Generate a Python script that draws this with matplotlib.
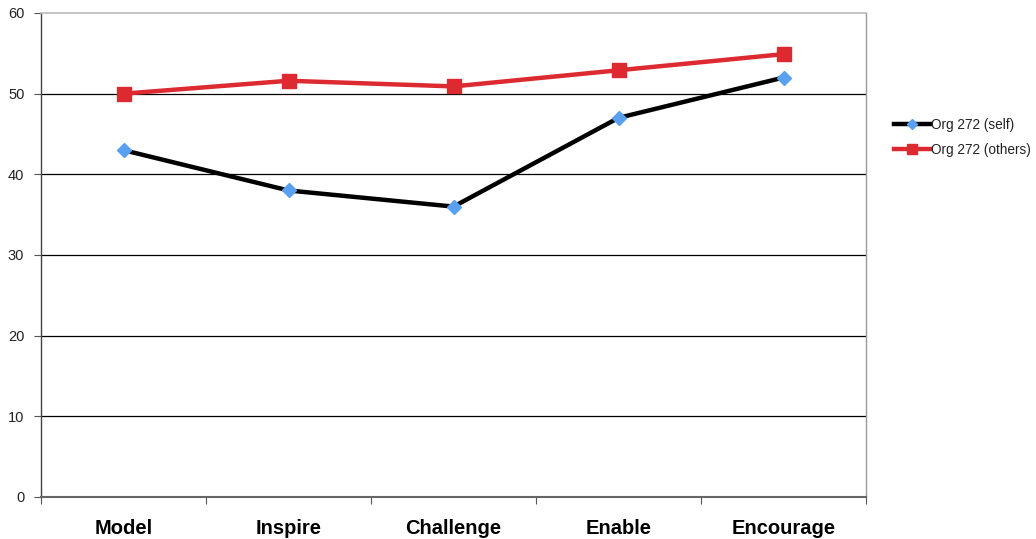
import matplotlib
matplotlib.use("Agg")
import matplotlib.pyplot as plt

categories = ["Model", "Inspire", "Challenge", "Enable", "Encourage"]
self_scores = [43, 38, 36, 47, 52]
others_scores = [50, 51.6, 50.9, 52.9, 54.9]
y_ticks = [0, 10, 20, 30, 40, 50, 60]

plt.rcParams['font.family'] = ['Liberation Sans', 'DejaVu Sans']

fig = plt.figure(figsize=(10.36, 5.39), dpi=100)
ax = fig.add_axes([41/1036, 1 - 497/539, (866 - 41)/1036, (497 - 13)/539])

x = list(range(len(categories)))

# horizontal gridlines (top one acts as the plot-area border)
for v in y_ticks[1:-1]:
    ax.axhline(v, color='black', lw=0.9, zorder=1)

ax.plot(x, self_scores, color='black', lw=3.2, marker='D', markersize=7.5,
        markerfacecolor='#5aa0f0', markeredgecolor='#5aa0f0',
        label='Org 272 (self)', zorder=3)
ax.plot(x, others_scores, color='#dc2a30', lw=3.2, marker='s', markersize=10,
        markerfacecolor='#dc2a30', markeredgecolor='#dc2a30',
        label='Org 272 (others)', zorder=3)

ax.set_xlim(-0.5, len(categories) - 0.5)
ax.set_ylim(0, 60)
ax.set_yticks(y_ticks)
ax.set_yticklabels([str(v) for v in y_ticks], fontsize=10.5, color='#222222')

# category labels centred between boundary tick marks
ax.set_xticks([i - 0.5 for i in range(len(categories) + 1)])
ax.set_xticklabels([])
ax.set_xticks(x, minor=True)
ax.set_xticklabels(categories, minor=True, fontsize=14.5, fontweight='bold', color='black')
ax.tick_params(axis='x', which='minor', length=0, pad=16)
ax.tick_params(axis='x', which='major', length=5, color='#555555', direction='out')
ax.tick_params(axis='y', length=5, color='#555555', direction='out', pad=7)

ax.spines['left'].set_color('#444444')
ax.spines['left'].set_linewidth(1.0)
ax.spines['bottom'].set_color('#666666')
ax.spines['bottom'].set_linewidth(1.5)
ax.spines['top'].set_color('#bbbbbb')
ax.spines['top'].set_linewidth(1.2)
ax.spines['right'].set_color('#999999')
ax.spines['right'].set_linewidth(1.0)

leg = fig.legend(loc='upper left', bbox_to_anchor=(882/1036, 1 - 106/539),
                 frameon=False, fontsize=9.8, handlelength=2.6, numpoints=1,
                 handletextpad=0.1, labelspacing=0.8, markerscale=0.7)
for t in leg.get_texts():
    t.set_color('#222222')

fig.savefig('out.png', dpi=100)
